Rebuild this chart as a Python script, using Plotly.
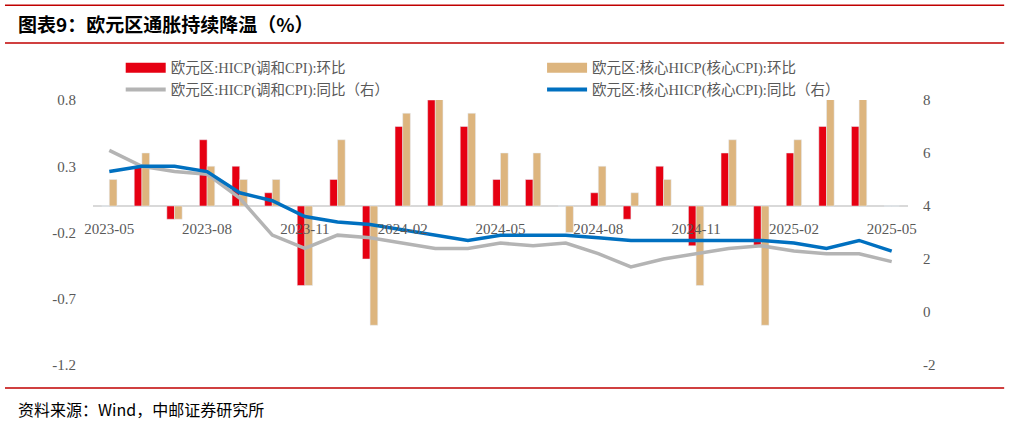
import plotly.graph_objects as go

# 欧元区 HICP 月度数据 (2023-05 ~ 2025-05)
months = ["2023-05", "2023-06", "2023-07", "2023-08", "2023-09", "2023-10", "2023-11", "2023-12",
          "2024-01", "2024-02", "2024-03", "2024-04", "2024-05", "2024-06", "2024-07", "2024-08",
          "2024-09", "2024-10", "2024-11", "2024-12", "2025-01", "2025-02", "2025-03", "2025-04",
          "2025-05"]
hicp_mom = [0.0, 0.3, -0.1, 0.5, 0.3, 0.1, -0.6, 0.2, -0.4, 0.6, 0.8, 0.6, 0.2, 0.2, 0.0, 0.1,
            -0.1, 0.3, -0.3, 0.4, -0.3, 0.4, 0.6, 0.6, 0.0]
core_mom = [0.2, 0.4, -0.1, 0.3, 0.2, 0.2, -0.6, 0.5, -0.9, 0.7, 1.1, 0.7, 0.4, 0.4, -0.2, 0.3,
            0.1, 0.2, -0.6, 0.5, -0.9, 0.5, 1.0, 1.0, 0.0]
hicp_yoy = [6.1, 5.5, 5.3, 5.2, 4.3, 2.9, 2.4, 2.9, 2.8, 2.6, 2.4, 2.4, 2.6, 2.5, 2.6, 2.2,
            1.7, 2.0, 2.2, 2.4, 2.5, 2.3, 2.2, 2.2, 1.9]
core_yoy = [5.3, 5.5, 5.5, 5.3, 4.5, 4.2, 3.6, 3.4, 3.3, 3.1, 2.9, 2.7, 2.9, 2.9, 2.9, 2.8,
            2.7, 2.7, 2.7, 2.7, 2.7, 2.6, 2.4, 2.7, 2.3]
tick_labels = months[::3]
left_ticks = [-1.2, -0.7, -0.2, 0.3, 0.8]
right_ticks = [-2, 0, 2, 4, 6, 8]

names = ["欧元区:HICP(调和CPI):环比", "欧元区:核心HICP(核心CPI):环比",
         "欧元区:HICP(调和CPI):同比（右）", "欧元区:核心HICP(核心CPI):同比（右）"]
RED, TAN, GRAY, BLUE = "#E60012", "#DDB57E", "#B4B4B4", "#0070C0"
TXT = "#595959"
SERIF = "Liberation Serif, Noto Sans CJK SC"

fig = go.Figure()
fig.add_trace(go.Bar(x=months, y=hicp_mom, marker_color=RED, showlegend=False))
fig.add_trace(go.Bar(x=months, y=core_mom, marker_color=TAN, showlegend=False))
fig.add_trace(go.Scatter(x=months, y=hicp_yoy, yaxis="y2", mode="lines",
                         line=dict(color=GRAY, width=3.5), showlegend=False))
fig.add_trace(go.Scatter(x=months, y=core_yoy, yaxis="y2", mode="lines",
                         line=dict(color=BLUE, width=3.5), showlegend=False))

# legend-only entries (wide bar swatches), left column / right column
for nm, col, w, lg in zip(names, [RED, TAN, GRAY, BLUE], [10, 10, 4, 4],
                          ["legend", "legend2", "legend", "legend2"]):
    fig.add_trace(go.Scatter(x=[None], y=[None], mode="lines", name=nm, legend=lg,
                             line=dict(color=col, width=w)))

leg_style = dict(orientation="v", yanchor="top", xanchor="left", tracegroupgap=0,
                 itemwidth=40,
                 font=dict(family=SERIF, size=14.5, color=TXT), bgcolor="rgba(0,0,0,0)")

fig.update_layout(
    width=1009, height=423,
    margin=dict(l=93, r=101, t=100, b=58),
    paper_bgcolor="white", plot_bgcolor="white",
    barmode="group", bargap=0.53, bargroupgap=0,
    font=dict(family=SERIF, size=15, color=TXT),
    showlegend=True,
    legend=dict(x=0.034, y=1.182, **leg_style),
    legend2=dict(x=0.551, y=1.182, **leg_style),
    xaxis=dict(type="category", tickmode="array", tickvals=tick_labels, ticktext=tick_labels,
               anchor="free", position=0.6, showline=False, showgrid=False,
               ticks="", tickangle=0, ticklabelstandoff=12,
               tickfont=dict(family=SERIF, size=15, color=TXT)),
    yaxis=dict(range=[-1.2, 0.8], tickvals=left_ticks, ticktext=[str(v) for v in left_ticks],
               showgrid=False, zeroline=True, zerolinecolor="#D9D9D9", zerolinewidth=2,
               ticklabelstandoff=16, tickfont=dict(family=SERIF, size=15, color=TXT)),
    yaxis2=dict(range=[-2, 8], tickvals=right_ticks, ticktext=[str(v) for v in right_ticks],
                overlaying="y", side="right",
                showgrid=False, zeroline=False, ticklabelstandoff=14,
                tickfont=dict(family=SERIF, size=15, color=TXT)),
)

# 标题、来源与红色分隔线
fig.add_annotation(text="<b>图表9：欧元区通胀持续降温（%）</b>", xref="paper", yref="paper",
                   x=-0.094, y=1.29, xanchor="left", yanchor="middle", showarrow=False,
                   font=dict(family="Noto Sans CJK SC", size=19, color="black"))
fig.add_annotation(text="资料来源：Wind，中邮证券研究所", xref="paper", yref="paper",
                   x=-0.094, y=-0.166, xanchor="left", yanchor="middle", showarrow=False,
                   font=dict(family="Noto Sans CJK SC", size=16, color="black"))
for yy in [1.358, 1.215, -0.087]:
    fig.add_shape(type="line", xref="paper", yref="paper", x0=-0.108, x1=1.118, y0=yy, y1=yy,
                  line=dict(color="#C00000", width=1.5))

# page has a default 8px body margin; drop it so the figure fills the window
fig.write_html("out.html", config={"displayModeBar": False},
               post_script="document.body.style.margin='0';")
